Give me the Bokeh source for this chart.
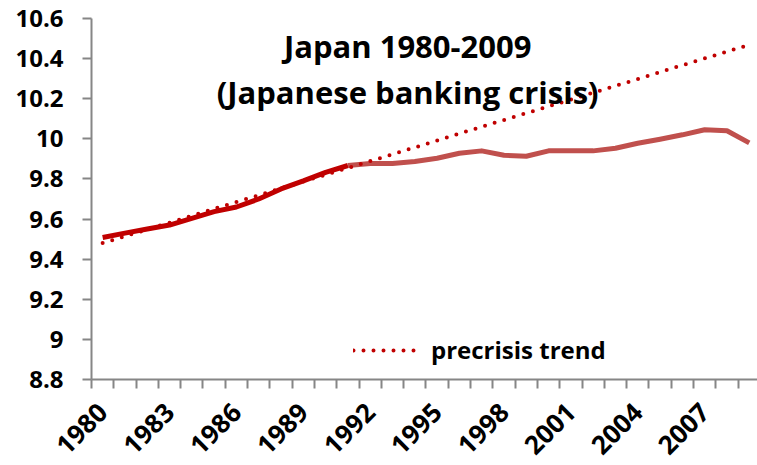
from bokeh.plotting import figure
from bokeh.models import (Range1d, FixedTicker, Label, Legend, LegendItem)
from bokeh.embed import file_html
from bokeh.resources import INLINE
import math

# ---- data ----
years = ["1980", "1981", "1982", "1983", "1984", "1985", "1986", "1987", "1988", "1989",
         "1990", "1991", "1992", "1993", "1994", "1995", "1996", "1997", "1998", "1999",
         "2000", "2001", "2002", "2003", "2004", "2005", "2006", "2007", "2008", "2009"]
actual = [9.508, 9.530, 9.550, 9.570, 9.603, 9.637, 9.660, 9.700, 9.750, 9.790,
          9.833, 9.867, 9.877, 9.877, 9.887, 9.903, 9.928, 9.940, 9.918, 9.913,
          9.940, 9.940, 9.940, 9.953, 9.978, 9.998, 10.020, 10.045, 10.040, 9.980]
trend = [9.480, 9.514, 9.548, 9.582, 9.617, 9.651, 9.685, 9.719, 9.753, 9.787,
         9.821, 9.855, 9.889, 9.923, 9.957, 9.992, 10.026, 10.060, 10.094, 10.128,
         10.162, 10.196, 10.230, 10.264, 10.298, 10.333, 10.367, 10.401, 10.435, 10.469]
crisis_year = "1991"
x_label_years = ["1980", "1983", "1986", "1989", "1992", "1995", "1998", "2001", "2004", "2007"]
y_ticks = [8.8, 9.0, 9.2, 9.4, 9.6, 9.8, 10.0, 10.2, 10.4, 10.6]
y_tick_labels = ["8.8", "9", "9.2", "9.4", "9.6", "9.8", "10", "10.2", "10.4", "10.6"]
title_lines = ["Japan 1980-2009", "(Japanese banking crisis)"]
legend_label = "precrisis trend"

DARK = "#C00000"
LIGHT = "#C0504D"
GRAY = "#868686"
FONT = "Open Sans"

xs = list(range(len(years)))
ci = years.index(crisis_year)

p = figure(width=757, height=465, output_backend="svg", toolbar_location=None,
           title=None, x_range=Range1d(-0.5, 29.37), y_range=Range1d(8.8, 10.6),
           min_border_left=91, min_border_right=0, min_border_top=18, min_border_bottom=86)
p.outline_line_color = None
p.xgrid.visible = False
p.ygrid.visible = False
p.background_fill_color = "white"
p.border_fill_color = "white"

# lines
p.line(xs[:ci + 1], actual[:ci + 1], line_color=DARK, line_width=5, line_join="round")
p.line(xs[ci:], actual[ci:], line_color=LIGHT, line_width=5, line_join="round")
tr = p.line(xs, trend, line_color=DARK, line_width=4, line_dash="0 10", line_cap="round")

# x axis
xa = p.xaxis[0]
x_major = [years.index(y) for y in x_label_years]
x_minor = [i - 0.5 for i in range(len(years) + 1)]
xa.ticker = FixedTicker(ticks=x_major, minor_ticks=x_minor)
xa.major_label_overrides = {years.index(y): y for y in x_label_years}
xa.major_tick_line_color = None
xa.major_tick_out = 9
xa.major_tick_in = 0
xa.minor_tick_out = 9
xa.minor_tick_in = 0
xa.minor_tick_line_color = GRAY
xa.minor_tick_line_width = 2
xa.axis_line_color = GRAY
xa.axis_line_width = 2
xa.major_label_orientation = math.pi / 4
xa.major_label_text_font = FONT
xa.major_label_text_font_style = "bold"
xa.major_label_text_font_size = "26px"
xa.major_label_text_color = "black"
xa.major_label_standoff = 19

# y axis
ya = p.yaxis[0]
ya.ticker = FixedTicker(ticks=y_ticks, minor_ticks=[])
ya.major_label_overrides = {t: l for t, l in zip(y_ticks, y_tick_labels)}
ya.major_tick_line_color = GRAY
ya.major_tick_line_width = 2
ya.major_tick_out = 9
ya.major_tick_in = 0
ya.minor_tick_line_color = None
ya.axis_line_color = GRAY
ya.axis_line_width = 2
ya.major_label_text_font = FONT
ya.major_label_text_font_style = "bold"
ya.major_label_text_font_size = "24px"
ya.major_label_text_color = "black"
ya.major_label_standoff = 19

# title
for txt, yv in zip(title_lines, [10.465, 10.236]):
    p.add_layout(Label(x=13.68, y=yv, text=txt, text_align="center",
                       text_baseline="alphabetic", text_font=FONT,
                       text_font_style="bold", text_font_size="31px",
                       text_color="black"))

# legend
leg = Legend(items=[LegendItem(label=legend_label, renderers=[tr])],
             location=(262, 13), background_fill_alpha=0, border_line_color=None,
             padding=0, margin=0, spacing=0, glyph_width=66, glyph_height=24,
             label_height=24, label_standoff=12, label_text_font=FONT,
             label_text_font_style="bold", label_text_font_size="24px",
             label_text_color="black")
p.add_layout(leg)

open("out.html", "w").write(file_html(p, INLINE))
